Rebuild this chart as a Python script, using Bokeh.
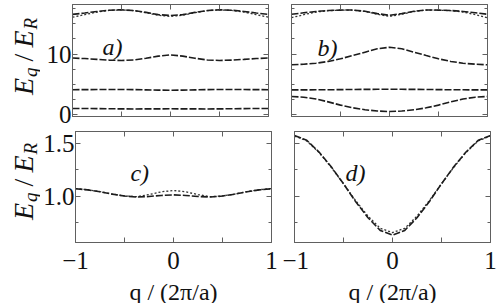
from math import pi
from bokeh.plotting import figure
from bokeh.layouts import column, row
from bokeh.models import Range1d, FixedTicker, LinearAxis, Label
from bokeh.embed import file_html
from bokeh.resources import INLINE

# ---------------- data ----------------
q = [-1.0, -0.875, -0.75, -0.625, -0.5, -0.375, -0.25, -0.125, 0.0,
     0.125, 0.25, 0.375, 0.5, 0.625, 0.75, 0.875, 1.0]

# panel a
a_band1 = [1.073, 1.062, 1.045, 1.022, 1.004, 0.995, 1.000, 1.010, 1.015,
           1.010, 1.000, 0.995, 1.004, 1.022, 1.045, 1.062, 1.073]
a_band2 = [4.15, 4.16, 4.17, 4.18, 4.18, 4.16, 4.12, 4.08, 4.06,
           4.08, 4.12, 4.16, 4.18, 4.18, 4.17, 4.16, 4.15]
a_band3 = [9.34, 9.25, 9.12, 9.00, 8.94, 9.02, 9.30, 9.65, 9.85,
           9.65, 9.30, 9.02, 8.94, 9.00, 9.12, 9.25, 9.34]
a_band4 = [16.50, 16.72, 16.98, 17.18, 17.25, 17.12, 16.82, 16.45, 16.32,
           16.45, 16.82, 17.12, 17.25, 17.18, 16.98, 16.72, 16.50]
a_band4_dot = [16.03, 16.45, 16.88, 17.15, 17.23, 17.10, 16.78, 16.35, 16.16,
               16.35, 16.78, 17.10, 17.23, 17.15, 16.88, 16.45, 16.03]

# panel b
b_band1 = [3.03, 2.92, 2.62, 2.15, 1.62, 1.18, 0.86, 0.65, 0.57,
           0.65, 0.86, 1.18, 1.62, 2.15, 2.62, 2.92, 3.03]
b_band2 = [4.12, 4.12, 4.13, 4.14, 4.16, 4.18, 4.20, 4.21, 4.22,
           4.21, 4.20, 4.18, 4.16, 4.14, 4.13, 4.12, 4.12]
b_band3 = [8.23, 8.33, 8.49, 8.78, 9.21, 9.75, 10.30, 10.85, 11.11,
           10.85, 10.30, 9.75, 9.21, 8.78, 8.49, 8.33, 8.23]
b_band4 = [16.52, 16.75, 16.98, 17.13, 17.20, 17.21, 17.00, 16.62, 16.33,
           16.62, 17.00, 17.21, 17.20, 17.13, 16.98, 16.75, 16.52]
b_band4_dot = [15.95, 16.45, 16.88, 17.10, 17.19, 17.20, 16.97, 16.52, 16.16,
               16.52, 16.97, 17.20, 17.19, 17.10, 16.88, 16.45, 15.95]

# panel c
c_dash = [1.073, 1.062, 1.045, 1.022, 1.004, 0.995, 1.000, 1.010, 1.015,
          1.010, 1.000, 0.995, 1.004, 1.022, 1.045, 1.062, 1.073]
c_dot = [1.075, 1.064, 1.046, 1.023, 1.005, 0.998, 1.018, 1.044, 1.057,
         1.044, 1.018, 0.998, 1.005, 1.023, 1.046, 1.064, 1.075]

# panel d
d_dash = [1.575, 1.53, 1.42, 1.28, 1.12, 0.95, 0.80, 0.68, 0.635,
          0.68, 0.80, 0.95, 1.12, 1.28, 1.42, 1.53, 1.575]
d_dot = [1.570, 1.525, 1.415, 1.275, 1.12, 0.96, 0.815, 0.70, 0.66,
         0.70, 0.815, 0.96, 1.12, 1.275, 1.415, 1.525, 1.570]

x_ticks = [-1, 0, 1]
x_minor = [-0.5, 0.5]
x_tick_labels = {-1: "−1", 0: "0", 1: "1"}
top_y_ticks = [0, 10]
top_y_minor = [2.5, 5, 7.5, 12.5, 15, 17.5]
top_y_labels = {0: "0", 10: "10"}
bot_y_ticks = [1.0, 1.5]
bot_y_minor = [0.75, 1.25]
bot_y_labels = {1.0: "1.0", 1.5: "1.5"}

TOP_RANGE = (-0.246, 18.115)
BOT_RANGE = (0.566, 1.613)

FONT = "Liberation Serif"
INK = "#1c1c1c"
FRAME = "#606060"


def style_axis(ax, ticks, minor, labels, minor_len=3):
    ax.ticker = FixedTicker(ticks=ticks, minor_ticks=minor)
    ax.axis_line_color = FRAME
    ax.major_tick_line_color = FRAME
    ax.minor_tick_line_color = FRAME
    ax.major_tick_in = 5
    ax.major_tick_out = 0
    ax.minor_tick_in = minor_len
    ax.minor_tick_out = 0
    ax.axis_label = None
    if labels is not None:
        ax.major_label_overrides = labels
        ax.major_label_text_font = FONT
        ax.major_label_text_font_size = "25px"
        ax.major_label_text_color = "#111111"
        ax.major_label_standoff = 1
    else:
        ax.major_label_text_font_size = "0px"
        ax.major_label_text_color = None
        ax.major_label_standoff = 0


def panel(yr, yt, ym, ylab, show_x, show_y, bl, br, bt, bb, fh):
    p = figure(frame_width=196, frame_height=fh,
               x_range=Range1d(-1, 1), y_range=Range1d(*yr),
               min_border_left=bl, min_border_right=br,
               min_border_top=bt, min_border_bottom=bb,
               output_backend="svg", toolbar_location=None)
    p.grid.visible = False
    p.outline_line_color = FRAME
    p.outline_line_width = 1
    p.background_fill_color = "white"
    p.border_fill_color = "white"
    style_axis(p.below[0], x_ticks, x_minor, x_tick_labels if show_x else None, 5)
    style_axis(p.left[0], yt, ym, ylab if show_y else None)
    top = LinearAxis()
    style_axis(top, x_ticks, x_minor, None, 5)
    p.add_layout(top, "above")
    right = LinearAxis()
    style_axis(right, yt, ym, None)
    p.add_layout(right, "right")
    if show_x:
        ax = p.below[0]
        ax.major_label_standoff = 9
        ax.axis_label = "q / (2π/a)"
        ax.axis_label_text_font = FONT
        ax.axis_label_text_font_size = "24px"
        ax.axis_label_text_font_style = "normal"
        ax.axis_label_text_color = "#111111"
        ax.axis_label_standoff = 7
    return p


def dashed(p, ys):
    p.line(q, ys, line_color=INK, line_width=1.6, line_dash="7 2")


def dotted(p, ys):
    p.line(q, ys, line_color="#333333", line_width=1.3, line_dash="2 2")


def tag(p, text, x, y):
    p.add_layout(Label(x=x, y=y, text=text, text_font=FONT, text_font_size="24px",
                       text_font_style="italic", text_color="#111111",
                       text_align="left", text_baseline="alphabetic"))


# narrow figure holding the rotated axis titles, in page-pixel coordinates
# (x from the left edge, y measured upward from the bottom of the window)
lab = figure(frame_width=40, frame_height=303, x_range=Range1d(0, 40),
             y_range=Range1d(0, 303), min_border=0,
             x_axis_location=None, y_axis_location=None,
             output_backend="svg", toolbar_location=None)
lab.grid.visible = False
lab.outline_line_color = None
lab.background_fill_color = "white"
lab.border_fill_color = "white"


def ylabel(center_py):
    y = center_py + 38.5          # page y of the lower end of the title
    parts = [("E", 28, "italic", 22.5, 17.1, 1),
             ("q", 19, "italic", 29.5, 9.5, 6),
             ("/", 28, "normal", 22.5, 7.8, 6),
             ("E", 28, "italic", 22.5, 17.1, 1),
             ("R", 19, "italic", 29.5, 11.6, 0)]
    for text, size, style, bx, w, gap in parts:
        lab.add_layout(Label(x=bx, y=303 - y, text=text, angle=pi / 2,
                             text_font=FONT, text_font_size=f"{size}px",
                             text_font_style=style, text_color="#111111",
                             text_align="left", text_baseline="alphabetic"))
        y -= w + gap


pa = panel(TOP_RANGE, top_y_ticks, top_y_minor, top_y_labels, False, True, 32, 11, 4, 14, 112)
pb = panel(TOP_RANGE, top_y_ticks, top_y_minor, top_y_labels, False, False, 12, 12, 4, 14, 112)
pc = panel(BOT_RANGE, bot_y_ticks, bot_y_minor, bot_y_labels, True, True, 32, 11, 1, 61, 111)
pd = panel(BOT_RANGE, bot_y_ticks, bot_y_minor, bot_y_labels, True, False, 12, 12, 1, 61, 111)

dotted(pa, a_band4_dot)
for ys in (a_band1, a_band2, a_band3, a_band4):
    dashed(pa, ys)
dotted(pb, b_band4_dot)
for ys in (b_band1, b_band2, b_band3, b_band4):
    dashed(pb, ys)
dotted(pc, c_dot)
dashed(pc, c_dash)
dotted(pd, d_dot)
dashed(pd, d_dash)

tag(pa, "a)", -0.694, 11.2)
tag(pb, "b)", -0.735, 11.05)
tag(pc, "c)", -0.44, 1.225)
tag(pd, "d)", -0.48, 1.225)

ylabel(56)
ylabel(181)

layout = row(lab, column(row(pa, pb), row(pc, pd)))

open("out.html", "w").write(file_html(layout, INLINE))
